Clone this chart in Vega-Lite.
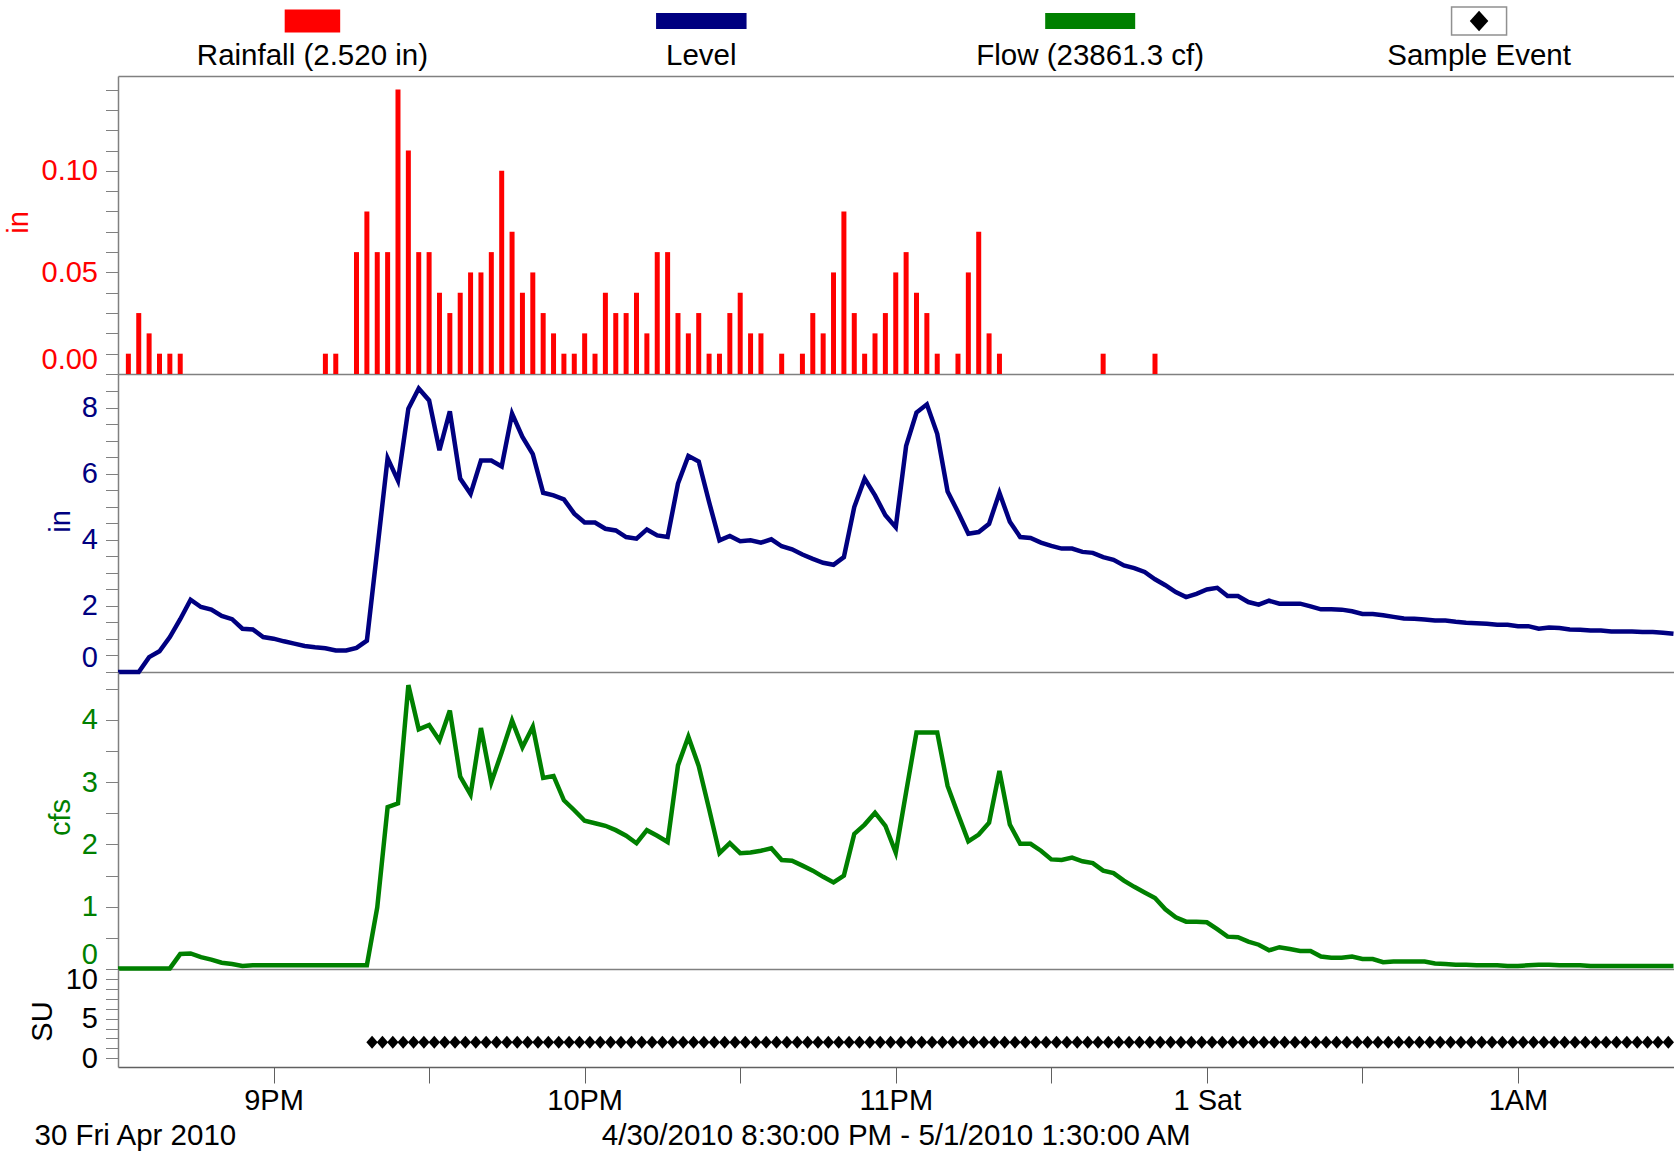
{
  "$schema": "https://vega.github.io/schema/vega-lite/v6.json",
  "autosize": {"type": "pad"},
  "padding": {"left": 4, "top": 1, "right": 0, "bottom": 0},
  "bounds": "flush",
  "spacing": 0,
  "background": "white",
  "config": {
    "font": "Liberation Sans",
    "view": {"stroke": null},
    "axis": {"grid": false, "domainColor": "#808080", "tickColor": "#808080", "domainWidth": 1.5, "tickWidth": 1, "labelFont": "Liberation Sans", "titleFont": "Liberation Sans", "titleFontWeight": "normal", "labelFontSize": 29, "titleFontSize": 29}
  },
  "datasets": {
    "legend": [
      {"item": "Rainfall (2.520 in)"},
      {"item": "Level"},
      {"item": "Flow (23861.3 cf)"},
      {"item": "Sample Event"}
    ],
    "rain": [
      {"t": "2010-04-30T20:32:00", "v": 0.01}, {"t": "2010-04-30T20:34:00", "v": 0.03}, {"t": "2010-04-30T20:36:00", "v": 0.02},
      {"t": "2010-04-30T20:38:00", "v": 0.01}, {"t": "2010-04-30T20:40:00", "v": 0.01}, {"t": "2010-04-30T20:42:00", "v": 0.01},
      {"t": "2010-04-30T21:10:00", "v": 0.01}, {"t": "2010-04-30T21:12:00", "v": 0.01},
      {"t": "2010-04-30T21:16:00", "v": 0.06}, {"t": "2010-04-30T21:18:00", "v": 0.08}, {"t": "2010-04-30T21:20:00", "v": 0.06},
      {"t": "2010-04-30T21:22:00", "v": 0.06}, {"t": "2010-04-30T21:24:00", "v": 0.14}, {"t": "2010-04-30T21:26:00", "v": 0.11},
      {"t": "2010-04-30T21:28:00", "v": 0.06}, {"t": "2010-04-30T21:30:00", "v": 0.06}, {"t": "2010-04-30T21:32:00", "v": 0.04},
      {"t": "2010-04-30T21:34:00", "v": 0.03}, {"t": "2010-04-30T21:36:00", "v": 0.04}, {"t": "2010-04-30T21:38:00", "v": 0.05},
      {"t": "2010-04-30T21:40:00", "v": 0.05}, {"t": "2010-04-30T21:42:00", "v": 0.06}, {"t": "2010-04-30T21:44:00", "v": 0.10},
      {"t": "2010-04-30T21:46:00", "v": 0.07}, {"t": "2010-04-30T21:48:00", "v": 0.04}, {"t": "2010-04-30T21:50:00", "v": 0.05},
      {"t": "2010-04-30T21:52:00", "v": 0.03}, {"t": "2010-04-30T21:54:00", "v": 0.02}, {"t": "2010-04-30T21:56:00", "v": 0.01},
      {"t": "2010-04-30T21:58:00", "v": 0.01}, {"t": "2010-04-30T22:00:00", "v": 0.02}, {"t": "2010-04-30T22:02:00", "v": 0.01},
      {"t": "2010-04-30T22:04:00", "v": 0.04}, {"t": "2010-04-30T22:06:00", "v": 0.03}, {"t": "2010-04-30T22:08:00", "v": 0.03},
      {"t": "2010-04-30T22:10:00", "v": 0.04}, {"t": "2010-04-30T22:12:00", "v": 0.02}, {"t": "2010-04-30T22:14:00", "v": 0.06},
      {"t": "2010-04-30T22:16:00", "v": 0.06}, {"t": "2010-04-30T22:18:00", "v": 0.03}, {"t": "2010-04-30T22:20:00", "v": 0.02},
      {"t": "2010-04-30T22:22:00", "v": 0.03}, {"t": "2010-04-30T22:24:00", "v": 0.01}, {"t": "2010-04-30T22:26:00", "v": 0.01},
      {"t": "2010-04-30T22:28:00", "v": 0.03}, {"t": "2010-04-30T22:30:00", "v": 0.04}, {"t": "2010-04-30T22:32:00", "v": 0.02},
      {"t": "2010-04-30T22:34:00", "v": 0.02}, {"t": "2010-04-30T22:38:00", "v": 0.01}, {"t": "2010-04-30T22:42:00", "v": 0.01},
      {"t": "2010-04-30T22:44:00", "v": 0.03}, {"t": "2010-04-30T22:46:00", "v": 0.02}, {"t": "2010-04-30T22:48:00", "v": 0.05},
      {"t": "2010-04-30T22:50:00", "v": 0.08}, {"t": "2010-04-30T22:52:00", "v": 0.03}, {"t": "2010-04-30T22:54:00", "v": 0.01},
      {"t": "2010-04-30T22:56:00", "v": 0.02}, {"t": "2010-04-30T22:58:00", "v": 0.03}, {"t": "2010-04-30T23:00:00", "v": 0.05},
      {"t": "2010-04-30T23:02:00", "v": 0.06}, {"t": "2010-04-30T23:04:00", "v": 0.04}, {"t": "2010-04-30T23:06:00", "v": 0.03},
      {"t": "2010-04-30T23:08:00", "v": 0.01}, {"t": "2010-04-30T23:12:00", "v": 0.01}, {"t": "2010-04-30T23:14:00", "v": 0.05},
      {"t": "2010-04-30T23:16:00", "v": 0.07}, {"t": "2010-04-30T23:18:00", "v": 0.02}, {"t": "2010-04-30T23:20:00", "v": 0.01},
      {"t": "2010-04-30T23:40:00", "v": 0.01}, {"t": "2010-04-30T23:50:00", "v": 0.01}
    ],
    "level": [
      {"t": "2010-04-30T20:30:00", "v": 0}, {"t": "2010-04-30T20:32:00", "v": 0}, {"t": "2010-04-30T20:34:00", "v": 0},
      {"t": "2010-04-30T20:36:00", "v": 0.45}, {"t": "2010-04-30T20:38:00", "v": 0.63}, {"t": "2010-04-30T20:40:00", "v": 1.06},
      {"t": "2010-04-30T20:42:00", "v": 1.6}, {"t": "2010-04-30T20:44:00", "v": 2.19}, {"t": "2010-04-30T20:46:00", "v": 1.97},
      {"t": "2010-04-30T20:48:00", "v": 1.89}, {"t": "2010-04-30T20:50:00", "v": 1.7}, {"t": "2010-04-30T20:52:00", "v": 1.6},
      {"t": "2010-04-30T20:54:00", "v": 1.31}, {"t": "2010-04-30T20:56:00", "v": 1.29}, {"t": "2010-04-30T20:58:00", "v": 1.06},
      {"t": "2010-04-30T21:00:00", "v": 1.01}, {"t": "2010-04-30T21:02:00", "v": 0.93}, {"t": "2010-04-30T21:04:00", "v": 0.86},
      {"t": "2010-04-30T21:06:00", "v": 0.79}, {"t": "2010-04-30T21:08:00", "v": 0.75}, {"t": "2010-04-30T21:10:00", "v": 0.72},
      {"t": "2010-04-30T21:12:00", "v": 0.65}, {"t": "2010-04-30T21:14:00", "v": 0.65}, {"t": "2010-04-30T21:16:00", "v": 0.73},
      {"t": "2010-04-30T21:18:00", "v": 0.95}, {"t": "2010-04-30T21:20:00", "v": 3.7}, {"t": "2010-04-30T21:22:00", "v": 6.48},
      {"t": "2010-04-30T21:24:00", "v": 5.8}, {"t": "2010-04-30T21:26:00", "v": 7.98}, {"t": "2010-04-30T21:28:00", "v": 8.59},
      {"t": "2010-04-30T21:30:00", "v": 8.23}, {"t": "2010-04-30T21:32:00", "v": 6.72}, {"t": "2010-04-30T21:34:00", "v": 7.9},
      {"t": "2010-04-30T21:36:00", "v": 5.86}, {"t": "2010-04-30T21:38:00", "v": 5.4}, {"t": "2010-04-30T21:40:00", "v": 6.41},
      {"t": "2010-04-30T21:42:00", "v": 6.41}, {"t": "2010-04-30T21:44:00", "v": 6.23}, {"t": "2010-04-30T21:46:00", "v": 7.83},
      {"t": "2010-04-30T21:48:00", "v": 7.12}, {"t": "2010-04-30T21:50:00", "v": 6.6}, {"t": "2010-04-30T21:52:00", "v": 5.43},
      {"t": "2010-04-30T21:54:00", "v": 5.35}, {"t": "2010-04-30T21:56:00", "v": 5.23}, {"t": "2010-04-30T21:58:00", "v": 4.8},
      {"t": "2010-04-30T22:00:00", "v": 4.53}, {"t": "2010-04-30T22:02:00", "v": 4.53}, {"t": "2010-04-30T22:04:00", "v": 4.34},
      {"t": "2010-04-30T22:06:00", "v": 4.29}, {"t": "2010-04-30T22:08:00", "v": 4.09}, {"t": "2010-04-30T22:10:00", "v": 4.04},
      {"t": "2010-04-30T22:12:00", "v": 4.32}, {"t": "2010-04-30T22:14:00", "v": 4.14}, {"t": "2010-04-30T22:16:00", "v": 4.09},
      {"t": "2010-04-30T22:18:00", "v": 5.71}, {"t": "2010-04-30T22:20:00", "v": 6.55}, {"t": "2010-04-30T22:22:00", "v": 6.38},
      {"t": "2010-04-30T22:24:00", "v": 5.15}, {"t": "2010-04-30T22:26:00", "v": 3.99}, {"t": "2010-04-30T22:28:00", "v": 4.12},
      {"t": "2010-04-30T22:30:00", "v": 3.96}, {"t": "2010-04-30T22:32:00", "v": 3.99}, {"t": "2010-04-30T22:34:00", "v": 3.92},
      {"t": "2010-04-30T22:36:00", "v": 4.02}, {"t": "2010-04-30T22:38:00", "v": 3.81}, {"t": "2010-04-30T22:40:00", "v": 3.72},
      {"t": "2010-04-30T22:42:00", "v": 3.56}, {"t": "2010-04-30T22:44:00", "v": 3.43}, {"t": "2010-04-30T22:46:00", "v": 3.31},
      {"t": "2010-04-30T22:48:00", "v": 3.25}, {"t": "2010-04-30T22:50:00", "v": 3.48}, {"t": "2010-04-30T22:52:00", "v": 5.0},
      {"t": "2010-04-30T22:54:00", "v": 5.86}, {"t": "2010-04-30T22:56:00", "v": 5.35}, {"t": "2010-04-30T22:58:00", "v": 4.75},
      {"t": "2010-04-30T23:00:00", "v": 4.39}, {"t": "2010-04-30T23:02:00", "v": 6.85}, {"t": "2010-04-30T23:04:00", "v": 7.86},
      {"t": "2010-04-30T23:06:00", "v": 8.11}, {"t": "2010-04-30T23:08:00", "v": 7.22}, {"t": "2010-04-30T23:10:00", "v": 5.47},
      {"t": "2010-04-30T23:12:00", "v": 4.85}, {"t": "2010-04-30T23:14:00", "v": 4.19}, {"t": "2010-04-30T23:16:00", "v": 4.24},
      {"t": "2010-04-30T23:18:00", "v": 4.49}, {"t": "2010-04-30T23:20:00", "v": 5.43}, {"t": "2010-04-30T23:22:00", "v": 4.55},
      {"t": "2010-04-30T23:24:00", "v": 4.09}, {"t": "2010-04-30T23:26:00", "v": 4.06}, {"t": "2010-04-30T23:28:00", "v": 3.92},
      {"t": "2010-04-30T23:30:00", "v": 3.82}, {"t": "2010-04-30T23:32:00", "v": 3.74}, {"t": "2010-04-30T23:34:00", "v": 3.74},
      {"t": "2010-04-30T23:36:00", "v": 3.64}, {"t": "2010-04-30T23:38:00", "v": 3.61}, {"t": "2010-04-30T23:40:00", "v": 3.48},
      {"t": "2010-04-30T23:42:00", "v": 3.4}, {"t": "2010-04-30T23:44:00", "v": 3.23}, {"t": "2010-04-30T23:46:00", "v": 3.15},
      {"t": "2010-04-30T23:48:00", "v": 3.03}, {"t": "2010-04-30T23:50:00", "v": 2.81}, {"t": "2010-04-30T23:52:00", "v": 2.63},
      {"t": "2010-04-30T23:54:00", "v": 2.42}, {"t": "2010-04-30T23:56:00", "v": 2.27}, {"t": "2010-04-30T23:58:00", "v": 2.37},
      {"t": "2010-05-01T00:00:00", "v": 2.5}, {"t": "2010-05-01T00:02:00", "v": 2.55}, {"t": "2010-05-01T00:04:00", "v": 2.3},
      {"t": "2010-05-01T00:06:00", "v": 2.3}, {"t": "2010-05-01T00:08:00", "v": 2.12}, {"t": "2010-05-01T00:10:00", "v": 2.04},
      {"t": "2010-05-01T00:12:00", "v": 2.16}, {"t": "2010-05-01T00:14:00", "v": 2.07}, {"t": "2010-05-01T00:16:00", "v": 2.07},
      {"t": "2010-05-01T00:18:00", "v": 2.07}, {"t": "2010-05-01T00:20:00", "v": 1.99}, {"t": "2010-05-01T00:22:00", "v": 1.9},
      {"t": "2010-05-01T00:24:00", "v": 1.9}, {"t": "2010-05-01T00:26:00", "v": 1.89}, {"t": "2010-05-01T00:28:00", "v": 1.84},
      {"t": "2010-05-01T00:30:00", "v": 1.76}, {"t": "2010-05-01T00:32:00", "v": 1.76}, {"t": "2010-05-01T00:34:00", "v": 1.72},
      {"t": "2010-05-01T00:36:00", "v": 1.67}, {"t": "2010-05-01T00:38:00", "v": 1.62}, {"t": "2010-05-01T00:40:00", "v": 1.61},
      {"t": "2010-05-01T00:42:00", "v": 1.59}, {"t": "2010-05-01T00:44:00", "v": 1.56}, {"t": "2010-05-01T00:46:00", "v": 1.56},
      {"t": "2010-05-01T00:48:00", "v": 1.52}, {"t": "2010-05-01T00:50:00", "v": 1.49}, {"t": "2010-05-01T00:52:00", "v": 1.48},
      {"t": "2010-05-01T00:54:00", "v": 1.46}, {"t": "2010-05-01T00:56:00", "v": 1.43}, {"t": "2010-05-01T00:58:00", "v": 1.43},
      {"t": "2010-05-01T01:00:00", "v": 1.39}, {"t": "2010-05-01T01:02:00", "v": 1.39}, {"t": "2010-05-01T01:04:00", "v": 1.31},
      {"t": "2010-05-01T01:06:00", "v": 1.35}, {"t": "2010-05-01T01:08:00", "v": 1.33}, {"t": "2010-05-01T01:10:00", "v": 1.29},
      {"t": "2010-05-01T01:12:00", "v": 1.28}, {"t": "2010-05-01T01:14:00", "v": 1.26}, {"t": "2010-05-01T01:16:00", "v": 1.26},
      {"t": "2010-05-01T01:18:00", "v": 1.23}, {"t": "2010-05-01T01:20:00", "v": 1.23}, {"t": "2010-05-01T01:22:00", "v": 1.23},
      {"t": "2010-05-01T01:24:00", "v": 1.21}, {"t": "2010-05-01T01:26:00", "v": 1.21}, {"t": "2010-05-01T01:28:00", "v": 1.19},
      {"t": "2010-05-01T01:30:00", "v": 1.16}
    ],
    "flow": [
      {"t": "2010-04-30T20:30:00", "v": 0.01}, {"t": "2010-04-30T20:32:00", "v": 0.01}, {"t": "2010-04-30T20:34:00", "v": 0.01},
      {"t": "2010-04-30T20:36:00", "v": 0.01}, {"t": "2010-04-30T20:38:00", "v": 0.01}, {"t": "2010-04-30T20:40:00", "v": 0.01},
      {"t": "2010-04-30T20:42:00", "v": 0.24}, {"t": "2010-04-30T20:44:00", "v": 0.25}, {"t": "2010-04-30T20:46:00", "v": 0.19},
      {"t": "2010-04-30T20:48:00", "v": 0.15}, {"t": "2010-04-30T20:50:00", "v": 0.1}, {"t": "2010-04-30T20:52:00", "v": 0.08},
      {"t": "2010-04-30T20:54:00", "v": 0.05}, {"t": "2010-04-30T20:56:00", "v": 0.06}, {"t": "2010-04-30T20:58:00", "v": 0.06},
      {"t": "2010-04-30T21:00:00", "v": 0.06}, {"t": "2010-04-30T21:02:00", "v": 0.06}, {"t": "2010-04-30T21:04:00", "v": 0.06},
      {"t": "2010-04-30T21:06:00", "v": 0.06}, {"t": "2010-04-30T21:08:00", "v": 0.06}, {"t": "2010-04-30T21:10:00", "v": 0.06},
      {"t": "2010-04-30T21:12:00", "v": 0.06}, {"t": "2010-04-30T21:14:00", "v": 0.06}, {"t": "2010-04-30T21:16:00", "v": 0.06},
      {"t": "2010-04-30T21:18:00", "v": 0.06}, {"t": "2010-04-30T21:20:00", "v": 0.99}, {"t": "2010-04-30T21:22:00", "v": 2.6},
      {"t": "2010-04-30T21:24:00", "v": 2.66}, {"t": "2010-04-30T21:26:00", "v": 4.56}, {"t": "2010-04-30T21:28:00", "v": 3.85},
      {"t": "2010-04-30T21:30:00", "v": 3.92}, {"t": "2010-04-30T21:32:00", "v": 3.67}, {"t": "2010-04-30T21:34:00", "v": 4.15},
      {"t": "2010-04-30T21:36:00", "v": 3.09}, {"t": "2010-04-30T21:38:00", "v": 2.8}, {"t": "2010-04-30T21:40:00", "v": 3.87},
      {"t": "2010-04-30T21:42:00", "v": 3.0}, {"t": "2010-04-30T21:44:00", "v": 3.48}, {"t": "2010-04-30T21:46:00", "v": 3.99},
      {"t": "2010-04-30T21:48:00", "v": 3.56}, {"t": "2010-04-30T21:50:00", "v": 3.89}, {"t": "2010-04-30T21:52:00", "v": 3.07},
      {"t": "2010-04-30T21:54:00", "v": 3.1}, {"t": "2010-04-30T21:56:00", "v": 2.71}, {"t": "2010-04-30T21:58:00", "v": 2.55},
      {"t": "2010-04-30T22:00:00", "v": 2.38}, {"t": "2010-04-30T22:02:00", "v": 2.34}, {"t": "2010-04-30T22:04:00", "v": 2.3},
      {"t": "2010-04-30T22:06:00", "v": 2.23}, {"t": "2010-04-30T22:08:00", "v": 2.14}, {"t": "2010-04-30T22:10:00", "v": 2.02},
      {"t": "2010-04-30T22:12:00", "v": 2.23}, {"t": "2010-04-30T22:14:00", "v": 2.14}, {"t": "2010-04-30T22:16:00", "v": 2.04},
      {"t": "2010-04-30T22:18:00", "v": 3.27}, {"t": "2010-04-30T22:20:00", "v": 3.73}, {"t": "2010-04-30T22:22:00", "v": 3.26},
      {"t": "2010-04-30T22:24:00", "v": 2.57}, {"t": "2010-04-30T22:26:00", "v": 1.86}, {"t": "2010-04-30T22:28:00", "v": 2.02},
      {"t": "2010-04-30T22:30:00", "v": 1.86}, {"t": "2010-04-30T22:32:00", "v": 1.87}, {"t": "2010-04-30T22:34:00", "v": 1.9},
      {"t": "2010-04-30T22:36:00", "v": 1.94}, {"t": "2010-04-30T22:38:00", "v": 1.75}, {"t": "2010-04-30T22:40:00", "v": 1.74},
      {"t": "2010-04-30T22:42:00", "v": 1.66}, {"t": "2010-04-30T22:44:00", "v": 1.58}, {"t": "2010-04-30T22:46:00", "v": 1.48},
      {"t": "2010-04-30T22:48:00", "v": 1.39}, {"t": "2010-04-30T22:50:00", "v": 1.5}, {"t": "2010-04-30T22:52:00", "v": 2.17},
      {"t": "2010-04-30T22:54:00", "v": 2.32}, {"t": "2010-04-30T22:56:00", "v": 2.51}, {"t": "2010-04-30T22:58:00", "v": 2.3},
      {"t": "2010-04-30T23:00:00", "v": 1.87}, {"t": "2010-04-30T23:02:00", "v": 2.84}, {"t": "2010-04-30T23:04:00", "v": 3.8},
      {"t": "2010-04-30T23:06:00", "v": 3.8}, {"t": "2010-04-30T23:08:00", "v": 3.8}, {"t": "2010-04-30T23:10:00", "v": 2.94},
      {"t": "2010-04-30T23:12:00", "v": 2.49}, {"t": "2010-04-30T23:14:00", "v": 2.05}, {"t": "2010-04-30T23:16:00", "v": 2.16},
      {"t": "2010-04-30T23:18:00", "v": 2.35}, {"t": "2010-04-30T23:20:00", "v": 3.18}, {"t": "2010-04-30T23:22:00", "v": 2.32},
      {"t": "2010-04-30T23:24:00", "v": 2.01}, {"t": "2010-04-30T23:26:00", "v": 2.01}, {"t": "2010-04-30T23:28:00", "v": 1.9},
      {"t": "2010-04-30T23:30:00", "v": 1.76}, {"t": "2010-04-30T23:32:00", "v": 1.75}, {"t": "2010-04-30T23:34:00", "v": 1.79},
      {"t": "2010-04-30T23:36:00", "v": 1.73}, {"t": "2010-04-30T23:38:00", "v": 1.7}, {"t": "2010-04-30T23:40:00", "v": 1.58},
      {"t": "2010-04-30T23:42:00", "v": 1.54}, {"t": "2010-04-30T23:44:00", "v": 1.42}, {"t": "2010-04-30T23:46:00", "v": 1.32},
      {"t": "2010-04-30T23:48:00", "v": 1.23}, {"t": "2010-04-30T23:50:00", "v": 1.14}, {"t": "2010-04-30T23:52:00", "v": 0.96},
      {"t": "2010-04-30T23:54:00", "v": 0.83}, {"t": "2010-04-30T23:56:00", "v": 0.76}, {"t": "2010-04-30T23:58:00", "v": 0.76},
      {"t": "2010-05-01T00:00:00", "v": 0.75}, {"t": "2010-05-01T00:02:00", "v": 0.64}, {"t": "2010-05-01T00:04:00", "v": 0.52},
      {"t": "2010-05-01T00:06:00", "v": 0.51}, {"t": "2010-05-01T00:08:00", "v": 0.44}, {"t": "2010-05-01T00:10:00", "v": 0.39},
      {"t": "2010-05-01T00:12:00", "v": 0.3}, {"t": "2010-05-01T00:14:00", "v": 0.35}, {"t": "2010-05-01T00:16:00", "v": 0.32},
      {"t": "2010-05-01T00:18:00", "v": 0.29}, {"t": "2010-05-01T00:20:00", "v": 0.29}, {"t": "2010-05-01T00:22:00", "v": 0.2},
      {"t": "2010-05-01T00:24:00", "v": 0.18}, {"t": "2010-05-01T00:26:00", "v": 0.18}, {"t": "2010-05-01T00:28:00", "v": 0.2},
      {"t": "2010-05-01T00:30:00", "v": 0.16}, {"t": "2010-05-01T00:32:00", "v": 0.16}, {"t": "2010-05-01T00:34:00", "v": 0.11},
      {"t": "2010-05-01T00:36:00", "v": 0.12}, {"t": "2010-05-01T00:38:00", "v": 0.12}, {"t": "2010-05-01T00:40:00", "v": 0.12},
      {"t": "2010-05-01T00:42:00", "v": 0.12}, {"t": "2010-05-01T00:44:00", "v": 0.09}, {"t": "2010-05-01T00:46:00", "v": 0.08},
      {"t": "2010-05-01T00:48:00", "v": 0.07}, {"t": "2010-05-01T00:50:00", "v": 0.07}, {"t": "2010-05-01T00:52:00", "v": 0.06},
      {"t": "2010-05-01T00:54:00", "v": 0.06}, {"t": "2010-05-01T00:56:00", "v": 0.06}, {"t": "2010-05-01T00:58:00", "v": 0.05},
      {"t": "2010-05-01T01:00:00", "v": 0.05}, {"t": "2010-05-01T01:02:00", "v": 0.06}, {"t": "2010-05-01T01:04:00", "v": 0.07},
      {"t": "2010-05-01T01:06:00", "v": 0.07}, {"t": "2010-05-01T01:08:00", "v": 0.06}, {"t": "2010-05-01T01:10:00", "v": 0.06},
      {"t": "2010-05-01T01:12:00", "v": 0.06}, {"t": "2010-05-01T01:14:00", "v": 0.05}, {"t": "2010-05-01T01:16:00", "v": 0.05},
      {"t": "2010-05-01T01:18:00", "v": 0.05}, {"t": "2010-05-01T01:20:00", "v": 0.05}, {"t": "2010-05-01T01:22:00", "v": 0.05},
      {"t": "2010-05-01T01:24:00", "v": 0.05}, {"t": "2010-05-01T01:26:00", "v": 0.05}, {"t": "2010-05-01T01:28:00", "v": 0.05},
      {"t": "2010-05-01T01:30:00", "v": 0.05}
    ],
    "su": [
      {"t": "2010-04-30T21:19:00", "v": 2}, {"t": "2010-04-30T21:21:00", "v": 2}, {"t": "2010-04-30T21:23:00", "v": 2},
      {"t": "2010-04-30T21:25:00", "v": 2}, {"t": "2010-04-30T21:27:00", "v": 2}, {"t": "2010-04-30T21:29:00", "v": 2},
      {"t": "2010-04-30T21:31:00", "v": 2}, {"t": "2010-04-30T21:33:00", "v": 2}, {"t": "2010-04-30T21:35:00", "v": 2},
      {"t": "2010-04-30T21:37:00", "v": 2}, {"t": "2010-04-30T21:39:00", "v": 2}, {"t": "2010-04-30T21:41:00", "v": 2},
      {"t": "2010-04-30T21:43:00", "v": 2}, {"t": "2010-04-30T21:45:00", "v": 2}, {"t": "2010-04-30T21:47:00", "v": 2},
      {"t": "2010-04-30T21:49:00", "v": 2}, {"t": "2010-04-30T21:51:00", "v": 2}, {"t": "2010-04-30T21:53:00", "v": 2},
      {"t": "2010-04-30T21:55:00", "v": 2}, {"t": "2010-04-30T21:57:00", "v": 2}, {"t": "2010-04-30T21:59:00", "v": 2},
      {"t": "2010-04-30T22:01:00", "v": 2}, {"t": "2010-04-30T22:03:00", "v": 2}, {"t": "2010-04-30T22:05:00", "v": 2},
      {"t": "2010-04-30T22:07:00", "v": 2}, {"t": "2010-04-30T22:09:00", "v": 2}, {"t": "2010-04-30T22:11:00", "v": 2},
      {"t": "2010-04-30T22:13:00", "v": 2}, {"t": "2010-04-30T22:15:00", "v": 2}, {"t": "2010-04-30T22:17:00", "v": 2},
      {"t": "2010-04-30T22:19:00", "v": 2}, {"t": "2010-04-30T22:21:00", "v": 2}, {"t": "2010-04-30T22:23:00", "v": 2},
      {"t": "2010-04-30T22:25:00", "v": 2}, {"t": "2010-04-30T22:27:00", "v": 2}, {"t": "2010-04-30T22:29:00", "v": 2},
      {"t": "2010-04-30T22:31:00", "v": 2}, {"t": "2010-04-30T22:33:00", "v": 2}, {"t": "2010-04-30T22:35:00", "v": 2},
      {"t": "2010-04-30T22:37:00", "v": 2}, {"t": "2010-04-30T22:39:00", "v": 2}, {"t": "2010-04-30T22:41:00", "v": 2},
      {"t": "2010-04-30T22:43:00", "v": 2}, {"t": "2010-04-30T22:45:00", "v": 2}, {"t": "2010-04-30T22:47:00", "v": 2},
      {"t": "2010-04-30T22:49:00", "v": 2}, {"t": "2010-04-30T22:51:00", "v": 2}, {"t": "2010-04-30T22:53:00", "v": 2},
      {"t": "2010-04-30T22:55:00", "v": 2}, {"t": "2010-04-30T22:57:00", "v": 2}, {"t": "2010-04-30T22:59:00", "v": 2},
      {"t": "2010-04-30T23:01:00", "v": 2}, {"t": "2010-04-30T23:03:00", "v": 2}, {"t": "2010-04-30T23:05:00", "v": 2},
      {"t": "2010-04-30T23:07:00", "v": 2}, {"t": "2010-04-30T23:09:00", "v": 2}, {"t": "2010-04-30T23:11:00", "v": 2},
      {"t": "2010-04-30T23:13:00", "v": 2}, {"t": "2010-04-30T23:15:00", "v": 2}, {"t": "2010-04-30T23:17:00", "v": 2},
      {"t": "2010-04-30T23:19:00", "v": 2}, {"t": "2010-04-30T23:21:00", "v": 2}, {"t": "2010-04-30T23:23:00", "v": 2},
      {"t": "2010-04-30T23:25:00", "v": 2}, {"t": "2010-04-30T23:27:00", "v": 2}, {"t": "2010-04-30T23:29:00", "v": 2},
      {"t": "2010-04-30T23:31:00", "v": 2}, {"t": "2010-04-30T23:33:00", "v": 2}, {"t": "2010-04-30T23:35:00", "v": 2},
      {"t": "2010-04-30T23:37:00", "v": 2}, {"t": "2010-04-30T23:39:00", "v": 2}, {"t": "2010-04-30T23:41:00", "v": 2},
      {"t": "2010-04-30T23:43:00", "v": 2}, {"t": "2010-04-30T23:45:00", "v": 2}, {"t": "2010-04-30T23:47:00", "v": 2},
      {"t": "2010-04-30T23:49:00", "v": 2}, {"t": "2010-04-30T23:51:00", "v": 2}, {"t": "2010-04-30T23:53:00", "v": 2},
      {"t": "2010-04-30T23:55:00", "v": 2}, {"t": "2010-04-30T23:57:00", "v": 2}, {"t": "2010-04-30T23:59:00", "v": 2},
      {"t": "2010-05-01T00:01:00", "v": 2}, {"t": "2010-05-01T00:03:00", "v": 2}, {"t": "2010-05-01T00:05:00", "v": 2},
      {"t": "2010-05-01T00:07:00", "v": 2}, {"t": "2010-05-01T00:09:00", "v": 2}, {"t": "2010-05-01T00:11:00", "v": 2},
      {"t": "2010-05-01T00:13:00", "v": 2}, {"t": "2010-05-01T00:15:00", "v": 2}, {"t": "2010-05-01T00:17:00", "v": 2},
      {"t": "2010-05-01T00:19:00", "v": 2}, {"t": "2010-05-01T00:21:00", "v": 2}, {"t": "2010-05-01T00:23:00", "v": 2},
      {"t": "2010-05-01T00:25:00", "v": 2}, {"t": "2010-05-01T00:27:00", "v": 2}, {"t": "2010-05-01T00:29:00", "v": 2},
      {"t": "2010-05-01T00:31:00", "v": 2}, {"t": "2010-05-01T00:33:00", "v": 2}, {"t": "2010-05-01T00:35:00", "v": 2},
      {"t": "2010-05-01T00:37:00", "v": 2}, {"t": "2010-05-01T00:39:00", "v": 2}, {"t": "2010-05-01T00:41:00", "v": 2},
      {"t": "2010-05-01T00:43:00", "v": 2}, {"t": "2010-05-01T00:45:00", "v": 2}, {"t": "2010-05-01T00:47:00", "v": 2},
      {"t": "2010-05-01T00:49:00", "v": 2}, {"t": "2010-05-01T00:51:00", "v": 2}, {"t": "2010-05-01T00:53:00", "v": 2},
      {"t": "2010-05-01T00:55:00", "v": 2}, {"t": "2010-05-01T00:57:00", "v": 2}, {"t": "2010-05-01T00:59:00", "v": 2},
      {"t": "2010-05-01T01:01:00", "v": 2}, {"t": "2010-05-01T01:03:00", "v": 2}, {"t": "2010-05-01T01:05:00", "v": 2},
      {"t": "2010-05-01T01:07:00", "v": 2}, {"t": "2010-05-01T01:09:00", "v": 2}, {"t": "2010-05-01T01:11:00", "v": 2},
      {"t": "2010-05-01T01:13:00", "v": 2}, {"t": "2010-05-01T01:15:00", "v": 2}, {"t": "2010-05-01T01:17:00", "v": 2},
      {"t": "2010-05-01T01:19:00", "v": 2}, {"t": "2010-05-01T01:21:00", "v": 2}, {"t": "2010-05-01T01:23:00", "v": 2},
      {"t": "2010-05-01T01:25:00", "v": 2}, {"t": "2010-05-01T01:27:00", "v": 2}, {"t": "2010-05-01T01:29:00", "v": 2}
    ]
  },
  "vconcat": [
    {
      "width": 1555.5,
      "height": 75,
      "data": {"name": "legend"},
      "encoding": {
        "x": {"field": "item", "type": "nominal", "sort": null,
              "scale": {"type": "point", "domain": ["Rainfall (2.520 in)", "Level", "Flow (23861.3 cf)", "Sample Event"], "padding": 0.5},
              "axis": {"orient": "bottom", "labels": false, "ticks": false, "title": null, "domain": true}}
      },
      "layer": [
        {"mark": {"type": "text", "fontSize": 29.5, "baseline": "alphabetic", "align": "center", "color": "black"},
         "encoding": {"text": {"field": "item"},
                      "y": {"datum": "label", "scale": {"type": "point", "domain": ["symbol", "label"], "range": [20, 64], "padding": 0}, "axis": null}}},
        {"transform": [{"filter": "datum.item == 'Rainfall (2.520 in)'"}],
         "mark": {"type": "point", "shape": "M-1,-0.414L1,-0.414L1,0.414L-1,0.414Z", "size": 3080, "filled": true, "color": "#ff0000", "opacity": 1},
         "encoding": {"y": {"datum": "symbol", "scale": {"type": "point", "domain": ["symbol", "label"], "range": [20, 64], "padding": 0}, "axis": null}}},
        {"transform": [{"filter": "datum.item == 'Level'"}],
         "mark": {"type": "point", "shape": "M-1,-0.177L1,-0.177L1,0.177L-1,0.177Z", "size": 8190, "filled": true, "color": "#000080", "opacity": 1},
         "encoding": {"y": {"datum": "symbol", "scale": {"type": "point", "domain": ["symbol", "label"], "range": [20, 64], "padding": 0}, "axis": null}}},
        {"transform": [{"filter": "datum.item == 'Flow (23861.3 cf)'"}],
         "mark": {"type": "point", "shape": "M-1,-0.177L1,-0.177L1,0.177L-1,0.177Z", "size": 8100, "filled": true, "color": "#008000", "opacity": 1},
         "encoding": {"y": {"datum": "symbol", "scale": {"type": "point", "domain": ["symbol", "label"], "range": [20, 64], "padding": 0}, "axis": null}}},
        {"transform": [{"filter": "datum.item == 'Sample Event'"}],
         "mark": {"type": "point", "shape": "M-1,-0.509L1,-0.509L1,0.509L-1,0.509Z", "size": 3025, "filled": true, "fill": "white", "stroke": "#909090", "strokeWidth": 1.5, "opacity": 1},
         "encoding": {"y": {"datum": "symbol", "scale": {"type": "point", "domain": ["symbol", "label"], "range": [20, 64], "padding": 0}, "axis": null}}},
        {"transform": [{"filter": "datum.item == 'Sample Event'"}],
         "mark": {"type": "point", "shape": "M0,-1.05L0.95,0L0,1.05L-0.95,0Z", "size": 380, "filled": true, "color": "black", "opacity": 1},
         "encoding": {"y": {"datum": "symbol", "scale": {"type": "point", "domain": ["symbol", "label"], "range": [20, 64], "padding": 0}, "axis": null}}}
      ]
    },
    {
      "width": 1555.5,
      "height": 298,
      "data": {"name": "rain"},
      "mark": {"type": "rule", "color": "#ff0000", "strokeWidth": 5, "strokeCap": "butt"},
      "encoding": {
        "x": {"field": "t", "type": "temporal",
              "scale": {"domain": [{"year": 2010, "month": 4, "date": 30, "hours": 20, "minutes": 30}, {"year": 2010, "month": 5, "date": 1, "hours": 1, "minutes": 30}]},
              "axis": {"orient": "bottom", "labels": false, "ticks": false, "title": null, "domain": true}},
        "y": {"field": "v", "type": "quantitative",
              "scale": {"domain": [0, 0.1467], "nice": false, "zero": false},
              "axis": {
                "values": [0, 0.01, 0.02, 0.03, 0.04, 0.05, 0.06, 0.07, 0.08, 0.09, 0.1, 0.11, 0.12, 0.13, 0.14],
                "labelExpr": "round(datum.value*100) % 5 == 0 ? format(datum.value, '.2f') : ''",
                "labelColor": "#ff0000", "labelFlush": true, "labelOverlap": false,
                "tickSize": 12.5, "labelPadding": 8,
                "title": "in", "titleColor": "#ff0000", "titleX": -99.5, "titleY": 146, "titleAngle": -90, "titleAlign": "center", "titleBaseline": "middle",
                "encode": {"ticks": {"update": {"x": {"value": 14}, "x2": {"signal": "round(datum.value*100) % 5 == 0 ? -12.5 : 0"}}}}
              }},
        "y2": {"datum": 0}
      }
    },
    {
      "width": 1555.5,
      "height": 298,
      "data": {"name": "level"},
      "mark": {"type": "line", "color": "#000080", "strokeWidth": 4.5},
      "encoding": {
        "x": {"field": "t", "type": "temporal",
              "scale": {"domain": [{"year": 2010, "month": 4, "date": 30, "hours": 20, "minutes": 30}, {"year": 2010, "month": 5, "date": 1, "hours": 1, "minutes": 30}]},
              "axis": {"orient": "bottom", "labels": false, "ticks": false, "title": null, "domain": true}},
        "y": {"field": "v", "type": "quantitative",
              "scale": {"domain": [0, 9.03], "nice": false, "zero": false},
              "axis": {
                "values": [0, 0.5, 1, 1.5, 2, 2.5, 3, 3.5, 4, 4.5, 5, 5.5, 6, 6.5, 7, 7.5, 8, 8.5],
                "labelExpr": "datum.value % 2 == 0 ? format(datum.value, 'd') : ''",
                "labelColor": "#000080", "labelFlush": true, "labelOverlap": false,
                "tickSize": 12.5, "labelPadding": 8,
                "title": "in", "titleColor": "#000080", "titleX": -57.5, "titleY": 147, "titleAngle": -90, "titleAlign": "center", "titleBaseline": "middle",
                "encode": {"ticks": {"update": {"x": {"value": 14}, "x2": {"signal": "datum.value % 2 == 0 ? -12.5 : 0"}}}}
              }}
      }
    },
    {
      "width": 1555.5,
      "height": 297,
      "data": {"name": "flow"},
      "mark": {"type": "line", "color": "#008000", "strokeWidth": 4.5},
      "encoding": {
        "x": {"field": "t", "type": "temporal",
              "scale": {"domain": [{"year": 2010, "month": 4, "date": 30, "hours": 20, "minutes": 30}, {"year": 2010, "month": 5, "date": 1, "hours": 1, "minutes": 30}]},
              "axis": {"orient": "bottom", "labels": false, "ticks": false, "title": null, "domain": true}},
        "y": {"field": "v", "type": "quantitative",
              "scale": {"domain": [0, 4.77], "nice": false, "zero": false},
              "axis": {
                "values": [0, 0.5, 1, 1.5, 2, 2.5, 3, 3.5, 4, 4.5],
                "labelExpr": "datum.value % 1 == 0 ? format(datum.value, 'd') : ''",
                "labelColor": "#008000", "labelFlush": true, "labelOverlap": false,
                "tickSize": 12.5, "labelPadding": 8,
                "title": "cfs", "titleColor": "#008000", "titleX": -57.5, "titleY": 145, "titleAngle": -90, "titleAlign": "center", "titleBaseline": "middle",
                "encode": {"ticks": {"update": {"x": {"value": 14}, "x2": {"signal": "datum.value % 1 == 0 ? -12.5 : 0"}}}}
              }}
      }
    },
    {
      "width": 1555.5,
      "height": 98,
      "data": {"name": "su"},
      "title": {"text": "30 Fri Apr 2010", "orient": "bottom", "anchor": "start", "frame": "group", "fontSize": 29.5, "fontWeight": "normal", "color": "black", "baseline": "alphabetic", "dx": -83.5, "dy": -4.5, "offset": 0},
      "mark": {"type": "point", "shape": "M0,-1.12L1,0L0,1.12L-1,0Z", "filled": true, "color": "black", "size": 132, "opacity": 1},
      "encoding": {
        "x": {"field": "t", "type": "temporal",
              "scale": {"domain": [{"year": 2010, "month": 4, "date": 30, "hours": 20, "minutes": 30}, {"year": 2010, "month": 5, "date": 1, "hours": 1, "minutes": 30}]},
              "axis": {
                "orient": "bottom",
                "values": [
                  {"year": 2010, "month": 4, "date": 30, "hours": 21, "minutes": 0},
                  {"year": 2010, "month": 4, "date": 30, "hours": 21, "minutes": 30},
                  {"year": 2010, "month": 4, "date": 30, "hours": 22, "minutes": 0},
                  {"year": 2010, "month": 4, "date": 30, "hours": 22, "minutes": 30},
                  {"year": 2010, "month": 4, "date": 30, "hours": 23, "minutes": 0},
                  {"year": 2010, "month": 4, "date": 30, "hours": 23, "minutes": 30},
                  {"year": 2010, "month": 5, "date": 1, "hours": 0, "minutes": 0},
                  {"year": 2010, "month": 5, "date": 1, "hours": 0, "minutes": 30},
                  {"year": 2010, "month": 5, "date": 1, "hours": 1, "minutes": 0}
                ],
                "labelExpr": "minutes(datum.value) != 0 ? '' : hours(datum.value) == 0 ? '1 Sat' : hours(datum.value) > 12 ? (hours(datum.value) - 12) + 'PM' : hours(datum.value) + 'AM'",
                "labelFontSize": 29, "labelColor": "black", "labelFlush": false, "labelOverlap": false,
                "tickSize": 16, "labelPadding": 3, "domainColor": "#606060", "tickColor": "#606060",
                "title": "4/30/2010 8:30:00 PM - 5/1/2010 1:30:00 AM", "titleFontSize": 29.5, "titleColor": "black", "titleY": 77, "titleBaseline": "alphabetic",
                "encode": {"ticks": {"update": {"y": {"signal": "minutes(datum.value) == 0 ? -17 : -10.5"}, "y2": {"signal": "minutes(datum.value) == 0 ? 16 : 0"}}}}
              }},
        "y": {"field": "v", "type": "quantitative",
              "scale": {"domain": [-1.14, 11.31], "nice": false, "zero": false},
              "axis": {
                "values": [0, 1.25, 2.5, 3.75, 5, 6.25, 7.5, 8.75, 10],
                "labelExpr": "datum.value % 5 == 0 ? format(datum.value, 'd') : ''",
                "labelColor": "black", "labelFlush": false, "labelOverlap": false,
                "tickSize": 12.5, "labelPadding": 8,
                "title": "SU", "titleColor": "black", "titleX": -75.5, "titleY": 52, "titleAngle": -90, "titleAlign": "center", "titleBaseline": "middle",
                "encode": {"ticks": {"update": {"x": {"value": 14}, "x2": {"signal": "datum.value % 5 == 0 ? -12.5 : 0"}}}}
              }}
      }
    }
  ]
}
